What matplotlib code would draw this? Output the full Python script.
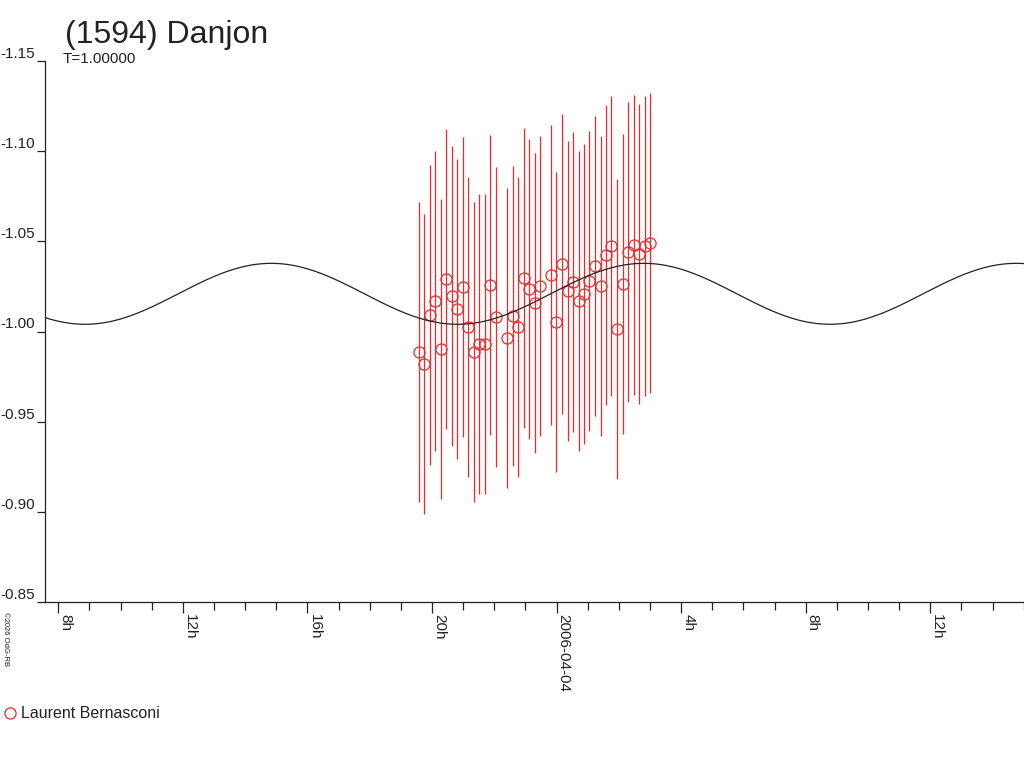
import numpy as np
import matplotlib.pyplot as plt
from matplotlib.lines import Line2D

plt.rcParams['font.family'] = ['Liberation Sans', 'DejaVu Sans']

# hours counted from 2006-04-03 0h UT
obs_hours = [19.59, 19.75, 19.93, 20.11, 20.30, 20.46, 20.65, 20.81, 21.00, 21.17,
             21.35, 21.52, 21.71, 21.87, 22.07, 22.42, 22.59, 22.77, 22.95, 23.13,
             23.30, 23.48, 23.83, 23.99, 24.19, 24.38, 24.54, 24.71, 24.89, 25.05,
             25.25, 25.43, 25.60, 25.76, 25.95, 26.13, 26.30, 26.49, 26.66, 26.85,
             27.01]
obs_mag = [-0.9886, -0.9820, -1.0092, -1.0169, -0.9903, -1.0291, -1.0197, -1.0125, -1.0247, -1.0025,
           -0.9886, -0.9931, -0.9931, -1.0258, -1.0080, -0.9964, -1.0086, -1.0025, -1.0297, -1.0236,
           -1.0158, -1.0252, -1.0313, -1.0053, -1.0374, -1.0225, -1.0275, -1.0169, -1.0208, -1.0280,
           -1.0363, -1.0252, -1.0424, -1.0474, -1.0014, -1.0263, -1.0441, -1.0480, -1.0430, -1.0474,
           -1.0491]
obs_err = [0.083] * len(obs_mag)
observer = 'Laurent Bernasconi'

# fitted light curve (single harmonic)
fit_period = 11.96      # hours
fit_tmin = 8.86         # hour of a minimum
fit_mean = -1.0209
fit_amp = 0.0169

y_ticks = [-1.15, -1.10, -1.05, -1.00, -0.95, -0.90, -0.85]
x_major = [8, 12, 16, 20, 24, 28, 32, 36]
x_major_labels = ['8h', '12h', '16h', '20h', '2006-04-04', '4h', '8h', '12h']
x_minor = list(range(8, 40))

red = '#f02a2a'
ink = '#222222'

fig = plt.figure(figsize=(10.24, 7.68), dpi=100)
ax = fig.add_axes([45 / 1024, 166 / 768, 979 / 1024, 541 / 768])

t = np.linspace(7.5, 39.1, 600)
curve = fit_mean + fit_amp * np.cos(2 * np.pi * (t - fit_tmin) / fit_period)
ax.plot(t, curve, color=ink, lw=0.9, zorder=3)

ax.errorbar(obs_hours, obs_mag, yerr=obs_err, fmt='o', ms=8, mfc='none', mec=red,
            mew=0.9, ecolor=red, elinewidth=0.9, capsize=0, zorder=2)

ax.set_xlim(7.573, 39.01)
ax.set_ylim(-0.85, -1.15)

for s in ['top', 'right']:
    ax.spines[s].set_visible(False)
for s in ['left', 'bottom']:
    ax.spines[s].set_linewidth(0.9)
    ax.spines[s].set_color(ink)

ax.set_yticks(y_ticks, [f'{v:.2f}' for v in y_ticks], va='bottom', fontsize=11, color=ink)
ax.set_xticks(x_major, x_major_labels, rotation=-90, ha='left', va='top', fontsize=11, color=ink)
ax.set_xticks(x_minor, minor=True)
ax.tick_params(axis='y', direction='out', length=6, width=0.9, pad=1, color=ink)
ax.tick_params(axis='x', which='major', direction='out', length=8, width=0.9, pad=1, color=ink)
ax.tick_params(axis='x', which='minor', direction='out', length=6, width=0.9, color=ink)

fig.text(65 / 1024, 1 - 43 / 768, '(1594) Danjon', fontsize=23, color=ink,
         ha='left', va='baseline')
fig.text(63 / 1024, 1 - 63 / 768, 'T=1.00000', fontsize=11, color=ink,
         ha='left', va='baseline')
fig.text(2 / 1024, 1 - 612 / 768, '\u00a92026 OdG-RB', fontsize=5.5, rotation=-90,
         ha='left', va='top', color=ink)

fig.add_artist(Line2D([10 / 1024], [1 - 713 / 768], marker='o', ms=8, mfc='none',
                      mec=red, mew=0.9, linestyle='none'))
fig.text(21 / 1024, 1 - 713 / 768, observer, fontsize=11.5, color=ink,
         ha='left', va='center')

fig.savefig('out.png', dpi=100, facecolor='white')
